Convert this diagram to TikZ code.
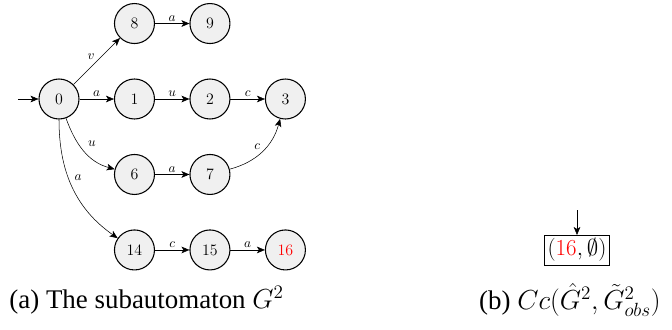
\documentclass[tikz,border=0pt]{standalone}
\usepackage{amsmath}
\usepackage{amssymb}
\usepackage{fontspec}
\setmainfont{Liberation Serif}
\usetikzlibrary{arrows.meta,positioning}

\begin{document}
\begin{tikzpicture}[
	state/.style = {circle, draw, thick, fill=gray!12, minimum size=1.06cm, inner sep=0pt, font=\fontsize{13}{15}\selectfont},
	lbl/.style   = {font=\normalsize, inner sep=1.5pt},
	pair/.style  = {draw, rectangle, inner sep=2.5pt, font=\fontsize{16}{18}\selectfont},
	caption/.style = {font=\rmfamily\fontsize{20.3}{24}\selectfont},
	node distance=2cm, on grid,
	>={Stealth[length=6pt,width=5pt,inset=1.5pt]}]

	\useasboundingbox (-1.5635,-6.095) rectangle (16.2445,2.6235);

	% States of the subautomaton
	\node[state] (n0) {$0$};
	\node[state, right=of n0] (n1) {$1$};
	\node[state, right=of n1] (n2) {$2$};
	\node[state, right=of n2] (n3) {$3$};
	\node[state, above=of n1] (n8) {$8$};
	\node[state, right=of n8] (n9) {$9$};
	\node[state, below=of n1] (n6) {$6$};
	\node[state, right=of n6] (n7) {$7$};
	\node[state, below=of n6] (n14) {$14$};
	\node[state, right=of n14] (n15) {$15$};
	\node[state, right=of n15] (n16) {\textcolor{red}{$16$}};

	% Initial arrow
	\coordinate[left=1.09cm of n0] (init);
	\draw[->] (init) -- (n0);

	% Straight transitions
	\foreach \from/\to/\ev in {n0/n1/a, n1/n2/u, n2/n3/c, n8/n9/a, n6/n7/a, n14/n15/c, n15/n16/a}
	\draw[->] (\from) -- node[lbl, above] {$\ev$} (\to);

	\draw[->] (n0) -- node[lbl, above left] {$v$} (n8);

	% Curved transitions
	\draw[->] (n0) to[out=-70, in=165] node[lbl, pos=0.5, above right=2pt] {$u$} (n6);
	\draw[->] (n0) to[out=-90, in=145] node[lbl, pos=0.42, right=3pt] {$a$} (n14);
	\draw[->] (n7) to[out=15, in=-105] node[lbl, pos=0.5, above left] {$c$} (n3);

	% Observer (b)
	\node[pair] (obs) at (13.727,-4.0015) {$(\textcolor{red}{16},\emptyset)$};
	\coordinate[above=1.06cm of obs] (obsinit);
	\draw[->] (obsinit) -- (obs);

	% Captions
	\node[caption] (capa) at (2.32,-5.33) {(a) The subautomaton $G^2$};
	\node[caption] (capb) at (13.54,-5.33) {(b) $Cc(\hat{G}^2,\tilde{G}^2_{obs})$};

\end{tikzpicture}
\end{document}
